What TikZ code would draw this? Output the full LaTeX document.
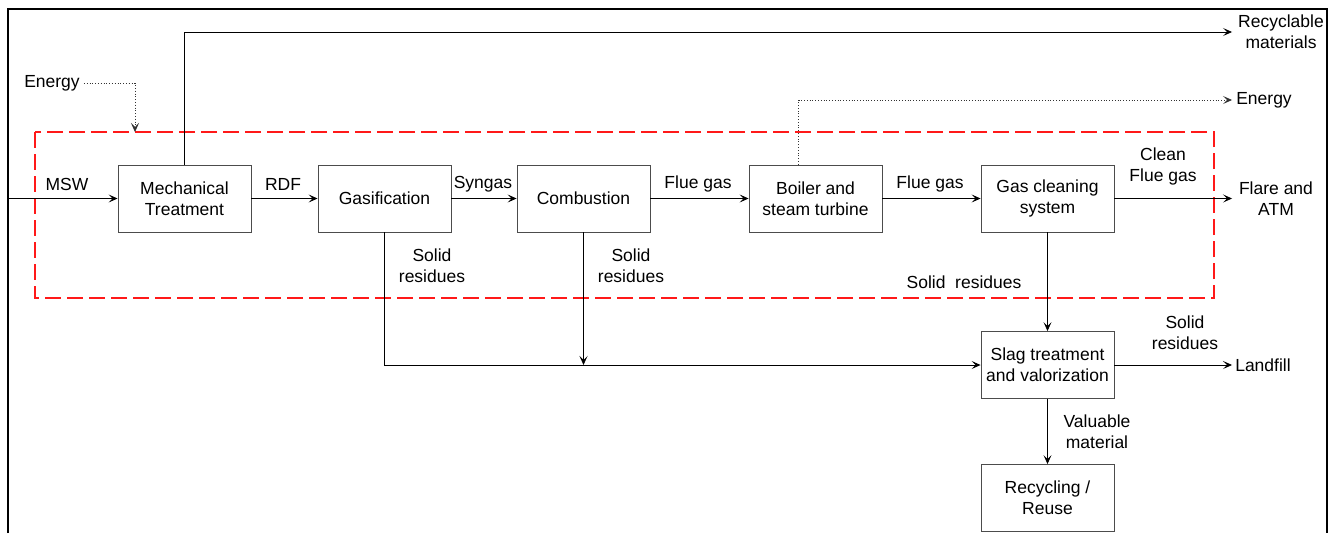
\documentclass[tikz,border=0pt]{standalone}
\usepackage{fontspec}
\setmainfont{Liberation Sans}
\usetikzlibrary{arrows.meta,calc}
\begin{document}
\begin{tikzpicture}[x=1pt,y=-1pt,
  font=\fontsize{17.5}{21}\selectfont,
  proc/.style={draw=black!70, line width=0.9pt, minimum width=133pt, minimum height=67pt,
               align=center, inner sep=0pt},
  lbl/.style={align=center, inner sep=0pt},
  flow/.style={draw=black, line width=0.8pt, -{Stealth[length=9pt,width=8pt,inset=4pt]}},
  link/.style={draw=black!80, line width=0.8pt},
  power/.style={draw=black!80, line width=0.8pt, dotted, -{Stealth[length=9pt,width=8pt,inset=4pt]}},
  boundary/.style={draw=red!90, line width=1.1pt, dash pattern=on 16pt off 6pt}]
  \useasboundingbox (0,0) rectangle (1333,533);

  % outer frame (open at the bottom)
  \draw[line width=1.8pt] (8,533) -- (8,9) -- (1327,9) -- (1327,533);

  % system boundary
  \draw[boundary] (35,132) rectangle (1214,298);
  \coordinate (bndtop) at (135,132);

  % process units
  \node[proc] (mech) at (184.5,198.5) {Mechanical\\Treatment};
  \node[proc] (gasi) at (384.5,198.5) {Gasification};
  \node[proc] (comb) at (583.5,198.5) {Combustion};
  \node[proc] (boil) at (815.5,198.5) {Boiler and\\steam turbine};
  \node[proc] (gcs)  at (1047.5,198.5) {Gas cleaning\\system};
  \node[proc] (slag) at (1047.5,365) {Slag treatment\\and valorization};
  \node[proc] (recy) at (1047.5,498) {Recycling /\\Reuse};

  % free ends
  \coordinate (msw)  at (8,198.5);
  \coordinate (rec)  at (1232,32);
  \coordinate (enr)  at (1232,100);
  \coordinate (atm)  at (1232,198.5);
  \coordinate (lfl)  at (1232,365);
  \coordinate (join) at (583.5,365);

  % outputs and inputs at the edges
  \node[lbl] (recl) at (1281,32) {Recyclable\\materials};
  \node[lbl] (enrl) at (1264,100) {Energy};
  \node[lbl] (atml) at (1276,199) {Flare and\\ATM};
  \node[lbl] (lfll) at (1263,365) {Landfill};
  \node[lbl] (enl)  at (52,83) {Energy};

  % main line
  \draw[flow] (msw) -- (mech);
  \draw[flow] (mech) -- (gasi);
  \draw[flow] (gasi) -- (comb);
  \draw[flow] (comb) -- (boil);
  \draw[flow] (boil) -- (gcs);
  \draw[flow] (gcs) -- (atm);

  % side streams
  \draw[flow] (mech.north) |- (rec);
  \draw[power] (enl.east) ++(4,0) -| (bndtop);
  \draw[power] ([xshift=50pt]boil.north west) |- (enr);
  \draw[flow] (gasi.south) |- (slag.west);
  \draw[flow] (comb.south) -- (join);
  \draw[flow] (gcs) -- (slag);
  \draw[flow] (slag) -- (lfl);
  \draw[flow] (slag) -- (recy);

  % stream labels
  \node[lbl] at (67,184) {MSW};
  \node[lbl] at (283,184) {RDF};
  \node[lbl] at (483,184) {Syngas};
  \node[lbl] at (698,184) {Flue gas};
  \node[lbl] at (930,184) {Flue gas};
  \node[lbl] at (1163,166) {Clean\\Flue gas};
  \node[lbl] at (432,266) {Solid\\residues};
  \node[lbl] at (631,266) {Solid\\residues};
  \node[lbl] at (964,282) {Solid\ \ residues};
  \node[lbl] at (1185,333) {Solid\\residues};
  \node[lbl] at (1097,432) {Valuable\\material};
\end{tikzpicture}
\end{document}
